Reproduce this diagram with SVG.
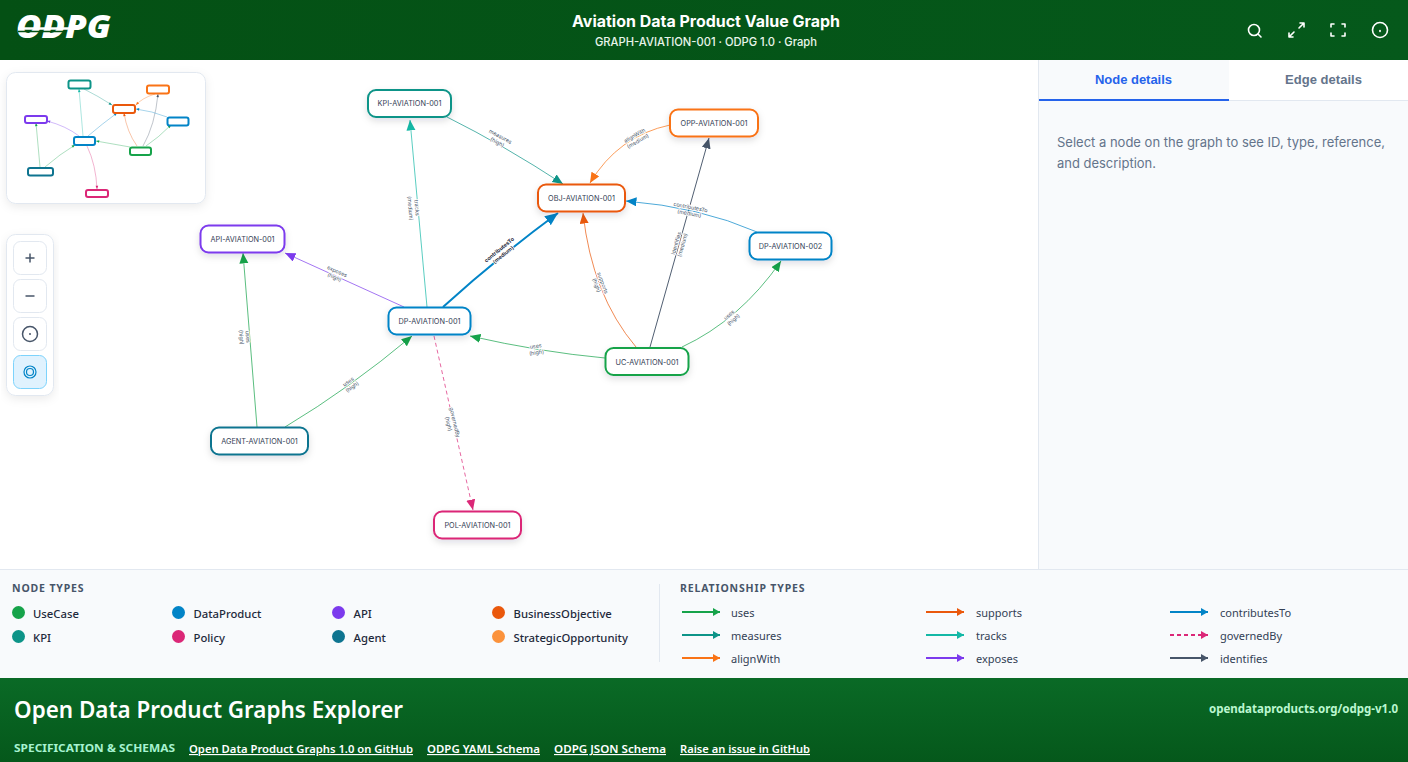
<svg xmlns="http://www.w3.org/2000/svg" width="1408" height="762" viewBox="0 0 1408 762">
<defs>
<linearGradient id="hdr" x1="0" x2="1" y1="0" y2="0"><stop offset="0" stop-color="#045014"/><stop offset="1" stop-color="#05591b"/></linearGradient>
<linearGradient id="ftr" x1="0" x2="0" y1="0" y2="1"><stop offset="0" stop-color="#0a6a26"/><stop offset="1" stop-color="#05581b"/></linearGradient>
<filter id="sh" x="-30%" y="-50%" width="160%" height="220%"><feDropShadow dx="0" dy="3" stdDeviation="3.5" flood-color="#0f172a" flood-opacity=".13"/></filter>
<filter id="card" x="-10%" y="-10%" width="120%" height="125%"><feDropShadow dx="0" dy="3" stdDeviation="5" flood-color="#0f172a" flood-opacity=".08"/></filter>
<path id="t" d="M0 0L-3.200 -1.300L-3.200 1.300z"/>
<marker id="m-uses" markerUnits="userSpaceOnUse" markerWidth="12" markerHeight="10" refX="10.500" refY="4.500" orient="auto"><path d="M0 0L10.500 4.500L0 9z" fill="#16a34a"/></marker>
<marker id="m-measures" markerUnits="userSpaceOnUse" markerWidth="12" markerHeight="10" refX="10.500" refY="4.500" orient="auto"><path d="M0 0L10.500 4.500L0 9z" fill="#0d9488"/></marker>
<marker id="m-align" markerUnits="userSpaceOnUse" markerWidth="12" markerHeight="10" refX="10.500" refY="4.500" orient="auto"><path d="M0 0L10.500 4.500L0 9z" fill="#f97316"/></marker>
<marker id="m-supports" markerUnits="userSpaceOnUse" markerWidth="12" markerHeight="10" refX="10.500" refY="4.500" orient="auto"><path d="M0 0L10.500 4.500L0 9z" fill="#ea580c"/></marker>
<marker id="m-tracks" markerUnits="userSpaceOnUse" markerWidth="12" markerHeight="10" refX="10.500" refY="4.500" orient="auto"><path d="M0 0L10.500 4.500L0 9z" fill="#14b8a6"/></marker>
<marker id="m-exposes" markerUnits="userSpaceOnUse" markerWidth="12" markerHeight="10" refX="10.500" refY="4.500" orient="auto"><path d="M0 0L10.500 4.500L0 9z" fill="#7c3aed"/></marker>
<marker id="m-contrib" markerUnits="userSpaceOnUse" markerWidth="12" markerHeight="10" refX="10.500" refY="4.500" orient="auto"><path d="M0 0L10.500 4.500L0 9z" fill="#0284c7"/></marker>
<marker id="m-contrib-b" markerUnits="userSpaceOnUse" markerWidth="15" markerHeight="12" refX="13" refY="5.500" orient="auto"><path d="M0 0L13 5.500L0 11z" fill="#0284c7"/></marker>
<marker id="m-gov" markerUnits="userSpaceOnUse" markerWidth="12" markerHeight="10" refX="10.500" refY="4.500" orient="auto"><path d="M0 0L10.500 4.500L0 9z" fill="#db2777"/></marker>
<marker id="m-ident" markerUnits="userSpaceOnUse" markerWidth="12" markerHeight="10" refX="10.500" refY="4.500" orient="auto"><path d="M0 0L10.500 4.500L0 9z" fill="#475569"/></marker>
<marker id="l-uses" markerUnits="userSpaceOnUse" markerWidth="8" markerHeight="10" refX="7" refY="4" orient="auto"><path d="M0 0L7 4L0 8z" fill="#16a34a"/></marker>
<marker id="l-measures" markerUnits="userSpaceOnUse" markerWidth="8" markerHeight="10" refX="7" refY="4" orient="auto"><path d="M0 0L7 4L0 8z" fill="#0d9488"/></marker>
<marker id="l-align" markerUnits="userSpaceOnUse" markerWidth="8" markerHeight="10" refX="7" refY="4" orient="auto"><path d="M0 0L7 4L0 8z" fill="#f97316"/></marker>
<marker id="l-supports" markerUnits="userSpaceOnUse" markerWidth="8" markerHeight="10" refX="7" refY="4" orient="auto"><path d="M0 0L7 4L0 8z" fill="#ea580c"/></marker>
<marker id="l-tracks" markerUnits="userSpaceOnUse" markerWidth="8" markerHeight="10" refX="7" refY="4" orient="auto"><path d="M0 0L7 4L0 8z" fill="#14b8a6"/></marker>
<marker id="l-exposes" markerUnits="userSpaceOnUse" markerWidth="8" markerHeight="10" refX="7" refY="4" orient="auto"><path d="M0 0L7 4L0 8z" fill="#7c3aed"/></marker>
<marker id="l-contrib" markerUnits="userSpaceOnUse" markerWidth="8" markerHeight="10" refX="7" refY="4" orient="auto"><path d="M0 0L7 4L0 8z" fill="#0284c7"/></marker>
<marker id="l-gov" markerUnits="userSpaceOnUse" markerWidth="8" markerHeight="10" refX="7" refY="4" orient="auto"><path d="M0 0L7 4L0 8z" fill="#db2777"/></marker>
<marker id="l-ident" markerUnits="userSpaceOnUse" markerWidth="8" markerHeight="10" refX="7" refY="4" orient="auto"><path d="M0 0L7 4L0 8z" fill="#475569"/></marker>
</defs>
<style>
text{font-family:"Inter","Noto Sans","Liberation Sans",sans-serif}
.n rect{fill:#fff;stroke-width:2;filter:url(#sh)}
.n text{font-size:7.300px;fill:#334155;text-anchor:middle}
.e{fill:none;stroke-width:1;stroke-opacity:.7}
.el text{font-size:5.400px;fill:#475569;text-anchor:middle;paint-order:stroke;stroke:#fff;stroke-width:1.600px;stroke-linejoin:round}
.mm{fill:none;stroke-width:1;stroke-opacity:.35}
.mn{fill:#fff;stroke-width:2}
.btn{fill:#fff;stroke:#e2e8f0;stroke-width:1}
.ic{fill:none;stroke:#475569;stroke-width:1.500}
.hi{fill:none;stroke:#fff;stroke-width:1.600;stroke-linecap:round;stroke-linejoin:round}
.lt{font-family:"Noto Sans",sans-serif;font-size:11.300px;font-weight:500;fill:#1e293b}
.rt{font-family:"Noto Sans",sans-serif;font-size:11px;fill:#334155}
.lh{font-family:"Noto Sans",sans-serif;font-size:10.500px;font-weight:700;fill:#475569;letter-spacing:.85px}
.ll{fill:none;stroke-width:2}
.fl{font-family:"Noto Sans",sans-serif;font-size:11.500px;font-weight:600;fill:#fff;text-decoration:underline}
</style>
<rect width="1408" height="762" fill="#fff"/>

<g id="header">
<rect width="1408" height="60" fill="url(#hdr)"/>
<text x="16" y="38" font-size="32" font-weight="900" font-style="italic" fill="#fff" textLength="95" lengthAdjust="spacingAndGlyphs" style="font-family:'Noto Sans',sans-serif">ODPG</text>
<path d="M18 28.500H76" stroke="#fff" stroke-width="2.500"/><path d="M18 31.500H66" stroke="#045014" stroke-width="1.500"/>
<text x="706" y="27" font-size="16" font-weight="700" fill="#fff" text-anchor="middle" textLength="268" lengthAdjust="spacingAndGlyphs">Aviation Data Product Value Graph</text>
<text x="706" y="46" font-size="11.500" font-weight="500" fill="#e8f5ea" text-anchor="middle" textLength="222" lengthAdjust="spacingAndGlyphs">GRAPH-AVIATION-001 · ODPG 1.0 · Graph</text>
<g class="hi"><circle cx="1254" cy="30" r="5.500"/><path d="M1258.500 34.500L1261 37"/>
<path d="M1289 37L1294 32M1289 33V37H1293M1304 23L1299 28M1300 23H1304V27"/>
<path d="M1331 27V24H1334M1342 24H1345V27M1345 33V36H1342M1334 36H1331V33"/>
<circle cx="1380" cy="30" r="7.500"/><path d="M1380 30.500V31.500"/></g>
</g>

<g id="side-panel">
<rect x="1038" y="60" width="370" height="510" fill="#f8fafc"/>
<path d="M1038.500 60V570" stroke="#e2e8f0"/>
<rect x="1229" y="60" width="179" height="40" fill="#fff"/>
<path d="M1039 100.500H1408" stroke="#e2e8f0"/>
<path d="M1039 100H1229" stroke="#2563eb" stroke-width="2"/>
<text x="1133.500" y="84" font-size="13" font-weight="700" fill="#2563eb" text-anchor="middle" textLength="77" style="font-family:'Liberation Sans',sans-serif">Node details</text>
<text x="1323.500" y="84" font-size="13" font-weight="700" fill="#64748b" text-anchor="middle" textLength="77" style="font-family:'Liberation Sans',sans-serif">Edge details</text>
<text x="1057" y="147" font-size="13" fill="#64748b" textLength="328" lengthAdjust="spacingAndGlyphs">Select a node on the graph to see ID, type, reference,</text>
<text x="1057" y="168" font-size="13" fill="#64748b" textLength="99" lengthAdjust="spacingAndGlyphs">and description.</text>
</g>

<g id="connectors">
<path class="e" stroke="#0d9488" marker-end="url(#m-measures)" d="M447 117Q505 146 563 184"/>
<path class="e" stroke="#14b8a6" marker-end="url(#m-tracks)" d="M427 307L410 120"/>
<path class="e" stroke="#0284c7" style="stroke-width:2;stroke-opacity:1" marker-end="url(#m-contrib-b)" d="M443 307Q497 258 558 213"/>
<path class="e" stroke="#f97316" marker-end="url(#m-align)" d="M670 125Q618 136 590 183"/>
<path class="e" stroke="#ea580c" marker-end="url(#m-supports)" d="M636 347Q592 295 583 213"/>
<path class="e" stroke="#475569" style="stroke-opacity:.95" marker-end="url(#m-ident)" d="M650 347L709 138"/>
<path class="e" stroke="#0284c7" marker-end="url(#m-contrib)" d="M757 232Q700 207 626 201"/>
<path class="e" stroke="#16a34a" marker-end="url(#m-uses)" d="M682 347Q740 320 781 261"/>
<path class="e" stroke="#16a34a" marker-end="url(#m-uses)" d="M605 358Q540 352 470 336"/>
<path class="e" stroke="#7c3aed" marker-end="url(#m-exposes)" d="M404 307L285 253"/>
<path class="e" stroke="#16a34a" marker-end="url(#m-uses)" d="M257 427L243 253"/>
<path class="e" stroke="#16a34a" marker-end="url(#m-uses)" d="M285 427Q350 388 412 336"/>
<path class="e" stroke="#db2777" stroke-dasharray="4 3" marker-end="url(#m-gov)" d="M434 336L473 510"/>
</g>
<g id="edge-labels" class="el">
<g transform="translate(499 139) rotate(28)"><text y="-1">measures</text><text y="5.500">(high)</text></g>
<g transform="translate(414 208) rotate(85)"><text y="-1">tracks</text><text y="5.500">(medium)</text></g>
<g transform="translate(501 252) rotate(-39)"><text y="-1" font-weight="700" style="fill:#1e293b">contributesTo</text><text y="5.500" font-weight="600" style="fill:#1e293b">(medium)</text></g>
<g transform="translate(636 138) rotate(-30)"><text y="-1">alignWith</text><text y="5.500">(medium)</text></g>
<g transform="translate(600 284) rotate(70)"><text y="-1">supports</text><text y="5.500">(high)</text></g>
<g transform="translate(679 244) rotate(-74)"><text y="-1">identifies</text><text y="5.500">(medium)</text></g>
<g transform="translate(690 210) rotate(11)"><text y="-1">contributesTo</text><text y="5.500">(medium)</text></g>
<g transform="translate(731 317) rotate(-42)"><text y="-1">uses</text><text y="5.500">(high)</text></g>
<g transform="translate(536 349) rotate(-8)"><text y="-1">uses</text><text y="5.500">(high)</text></g>
<g transform="translate(336 274) rotate(24)"><text y="-1">exposes</text><text y="5.500">(high)</text></g>
<g transform="translate(245 337) rotate(86)"><text y="-1">uses</text><text y="5.500">(high)</text></g>
<g transform="translate(350 384) rotate(-36)"><text y="-1">uses</text><text y="5.500">(high)</text></g>
<g transform="translate(452 423) rotate(77)"><text y="-1">governedBy</text><text y="5.500">(high)</text></g>
</g>

<g id="node-KPI" class="n"><rect x="368" y="90" width="83" height="27" rx="8" stroke="#0d9488"/><text x="409.500" y="106">KPI-AVIATION-001</text></g>
<g id="node-OPP" class="n"><rect x="670" y="109.500" width="88" height="27" rx="8" stroke="#f97316"/><text x="714" y="126">OPP-AVIATION-001</text></g>
<g id="node-OBJ" class="n"><rect x="538" y="184.500" width="87" height="27" rx="8" stroke="#ea580c"/><text x="581.500" y="200.500">OBJ-AVIATION-001</text></g>
<g id="node-API" class="n"><rect x="200.500" y="225.500" width="84" height="27" rx="8" stroke="#7c3aed"/><text x="242.500" y="242">API-AVIATION-001</text></g>
<g id="node-DP2" class="n"><rect x="749.500" y="232.500" width="82" height="27" rx="8" stroke="#0284c7"/><text x="790.500" y="248.500">DP-AVIATION-002</text></g>
<g id="node-DP1" class="n"><rect x="388.500" y="307.500" width="82" height="27" rx="8" stroke="#0284c7"/><text x="429.500" y="324">DP-AVIATION-001</text></g>
<g id="node-UC" class="n"><rect x="605.500" y="348" width="83" height="27" rx="8" stroke="#16a34a"/><text x="647" y="364.500">UC-AVIATION-001</text></g>
<g id="node-AGENT" class="n"><rect x="211" y="427.500" width="97" height="27" rx="8" stroke="#0e7490"/><text x="259.500" y="443.500">AGENT-AVIATION-001</text></g>
<g id="node-POL" class="n"><rect x="434" y="511.500" width="87" height="27" rx="8" stroke="#db2777"/><text x="477.500" y="528">POL-AVIATION-001</text></g>

<g id="minimap">
<rect x="6.500" y="72.500" width="199" height="131" rx="9" fill="#fff" stroke="#e2e8f0" filter="url(#card)"/>
<path class="mm" stroke="#0d9488" d="M84 89Q98 96 112 105"/>
<path class="mm" stroke="#14b8a6" d="M83 136L79 89"/>
<path class="mm" stroke="#0284c7" d="M88 136Q102 124 117 113"/>
<path class="mm" stroke="#f97316" d="M155 94Q142 98 136 105"/>
<path class="mm" stroke="#ea580c" d="M137 146Q127 132 124 113"/>
<path class="mm" stroke="#475569" d="M143 146Q155 125 158 94"/>
<path class="mm" stroke="#0284c7" d="M167 117Q152 111 136 109"/>
<path class="mm" stroke="#16a34a" d="M146 146Q158 138 171 125"/>
<path class="mm" stroke="#16a34a" d="M130 147Q113 144 96 141"/>
<path class="mm" stroke="#7c3aed" d="M79 136Q66 126 47 121"/>
<path class="mm" stroke="#16a34a" d="M40 167L36 123"/>
<path class="mm" stroke="#16a34a" d="M45 167Q60 154 75 145"/>
<path class="mm" stroke="#db2777" d="M87 146Q96 165 97 189"/>
<use href="#t" transform="translate(112 105) rotate(30)" fill="#0d9488"/>
<use href="#t" transform="translate(79 89) rotate(-95)" fill="#14b8a6"/>
<use href="#t" transform="translate(117 113) rotate(-38)" fill="#0284c7"/>
<use href="#t" transform="translate(136 105) rotate(130)" fill="#f97316"/>
<use href="#t" transform="translate(124 113) rotate(-99)" fill="#ea580c"/>
<use href="#t" transform="translate(158 94) rotate(-84)" fill="#475569"/>
<use href="#t" transform="translate(136 109) rotate(187)" fill="#0284c7"/>
<use href="#t" transform="translate(171 125) rotate(-45)" fill="#16a34a"/>
<use href="#t" transform="translate(96 141) rotate(190)" fill="#16a34a"/>
<use href="#t" transform="translate(47 121) rotate(195)" fill="#7c3aed"/>
<use href="#t" transform="translate(36 123) rotate(-95)" fill="#16a34a"/>
<use href="#t" transform="translate(75 145) rotate(-31)" fill="#16a34a"/>
<use href="#t" transform="translate(97 189) rotate(88)" fill="#db2777"/>
<rect class="mn" x="68.500" y="80.500" width="22" height="8" rx="2" stroke="#0d9488"/>
<rect class="mn" x="147" y="85.500" width="22" height="8" rx="2" stroke="#f97316"/>
<rect class="mn" x="113" y="105" width="22" height="8" rx="2" stroke="#ea580c"/>
<rect class="mn" x="25" y="116" width="22" height="7" rx="2" stroke="#7c3aed"/>
<rect class="mn" x="167.500" y="117.500" width="21" height="8" rx="2" stroke="#0284c7"/>
<rect class="mn" x="74" y="137" width="21" height="8" rx="2" stroke="#0284c7"/>
<rect class="mn" x="130" y="147.500" width="21" height="7.500" rx="2" stroke="#16a34a"/>
<rect class="mn" x="28" y="168" width="25" height="7.500" rx="2" stroke="#0e7490"/>
<rect class="mn" x="86" y="190" width="22" height="7" rx="2" stroke="#db2777"/>
</g>

<g id="zoom-controls">
<rect x="6.500" y="234.500" width="47" height="161" rx="9" fill="#fff" stroke="#e2e8f0" filter="url(#card)"/>
<rect class="btn" x="13.500" y="241.500" width="33" height="33" rx="7"/>
<rect class="btn" x="13.500" y="279.500" width="33" height="33" rx="7"/>
<rect class="btn" x="13.500" y="317.500" width="33" height="33" rx="7"/>
<rect x="13.500" y="355.500" width="33" height="33" rx="7" fill="#e0f2fe" stroke="#7dd3fc"/>
<path class="ic" d="M25.500 258H34.500M30 253.500V262.500"/>
<path class="ic" d="M25.500 296H34.500"/>
<circle class="ic" cx="30" cy="334" r="7.500"/><circle cx="30" cy="334" r="1" fill="#475569"/>
<circle cx="30" cy="372" r="6" fill="none" stroke="#0284c7" stroke-width="1.200"/><circle cx="30" cy="372" r="3.500" fill="none" stroke="#0284c7" stroke-width="1.200"/>
</g>

<g id="legend">
<rect y="570" width="1408" height="108" fill="#f8fafc"/>
<path d="M0 569.500H1408" stroke="#e2e8f0"/>
<path d="M659.500 584V662" stroke="#e2e8f0"/>
<text class="lh" x="12" y="592">NODE TYPES</text>
<g id="node-types">
<circle cx="18.500" cy="612.500" r="6.500" fill="#16a34a"/><text class="lt" x="33" y="618">UseCase</text>
<circle cx="178.500" cy="612.500" r="6.500" fill="#0284c7"/><text class="lt" x="193.500" y="618">DataProduct</text>
<circle cx="338.500" cy="612.500" r="6.500" fill="#7c3aed"/><text class="lt" x="353.500" y="618">API</text>
<circle cx="498.500" cy="612.500" r="6.500" fill="#ea580c"/><text class="lt" x="513.500" y="618">BusinessObjective</text>
<circle cx="18.500" cy="636.500" r="6.500" fill="#0d9488"/><text class="lt" x="33" y="642">KPI</text>
<circle cx="178.500" cy="636.500" r="6.500" fill="#db2777"/><text class="lt" x="193.500" y="642">Policy</text>
<circle cx="338.500" cy="636.500" r="6.500" fill="#0e7490"/><text class="lt" x="353.500" y="642">Agent</text>
<circle cx="498.500" cy="636.500" r="6.500" fill="#fb923c"/><text class="lt" x="513.500" y="642">StrategicOpportunity</text>
</g>
<text class="lh" x="680" y="592">RELATIONSHIP TYPES</text>
<g id="relationship-types">
<path class="ll" stroke="#16a34a" marker-end="url(#l-uses)" d="M682 612H720"/><text class="rt" x="731" y="617">uses</text>
<path class="ll" stroke="#0d9488" marker-end="url(#l-measures)" d="M682 635H720"/><text class="rt" x="731" y="640">measures</text>
<path class="ll" stroke="#f97316" marker-end="url(#l-align)" d="M682 658H720"/><text class="rt" x="731" y="663">alignWith</text>
<path class="ll" stroke="#ea580c" marker-end="url(#l-supports)" d="M926 612H964"/><text class="rt" x="976" y="617">supports</text>
<path class="ll" stroke="#14b8a6" marker-end="url(#l-tracks)" d="M926 635H964"/><text class="rt" x="976" y="640">tracks</text>
<path class="ll" stroke="#7c3aed" marker-end="url(#l-exposes)" d="M926 658H964"/><text class="rt" x="976" y="663">exposes</text>
<path class="ll" stroke="#0284c7" marker-end="url(#l-contrib)" d="M1170 612H1208"/><text class="rt" x="1220" y="617">contributesTo</text>
<path class="ll" stroke="#db2777" stroke-dasharray="4 3" marker-end="url(#l-gov)" d="M1170 635H1208"/><text class="rt" x="1220" y="640">governedBy</text>
<path class="ll" stroke="#475569" marker-end="url(#l-ident)" d="M1170 658H1208"/><text class="rt" x="1220" y="663">identifies</text>
</g>
</g>

<g id="footer">
<rect y="678" width="1408" height="84" fill="url(#ftr)"/>
<text x="14" y="718" font-size="23" font-weight="600" fill="#fff" textLength="389" lengthAdjust="spacingAndGlyphs" style="font-family:'Noto Sans',sans-serif">Open Data Product Graphs Explorer</text>
<text x="1398" y="713" font-size="12" font-weight="700" fill="#bbf7d0" text-anchor="end" textLength="189" lengthAdjust="spacingAndGlyphs" style="font-family:'Noto Sans',sans-serif">opendataproducts.org/odpg-v1.0</text>
<text x="14" y="752" font-size="11" font-weight="700" fill="#a7f3d0" textLength="161" lengthAdjust="spacingAndGlyphs" style="font-family:'Noto Sans',sans-serif">SPECIFICATION &amp; SCHEMAS</text>
<text class="fl" x="189" y="753" textLength="224" lengthAdjust="spacingAndGlyphs">Open Data Product Graphs 1.0 on GitHub</text>
<text class="fl" x="427" y="753" textLength="113" lengthAdjust="spacingAndGlyphs">ODPG YAML Schema</text>
<text class="fl" x="554" y="753" textLength="112" lengthAdjust="spacingAndGlyphs">ODPG JSON Schema</text>
<text class="fl" x="680" y="753" textLength="130" lengthAdjust="spacingAndGlyphs">Raise an issue in GitHub</text>
</g>
</svg>
